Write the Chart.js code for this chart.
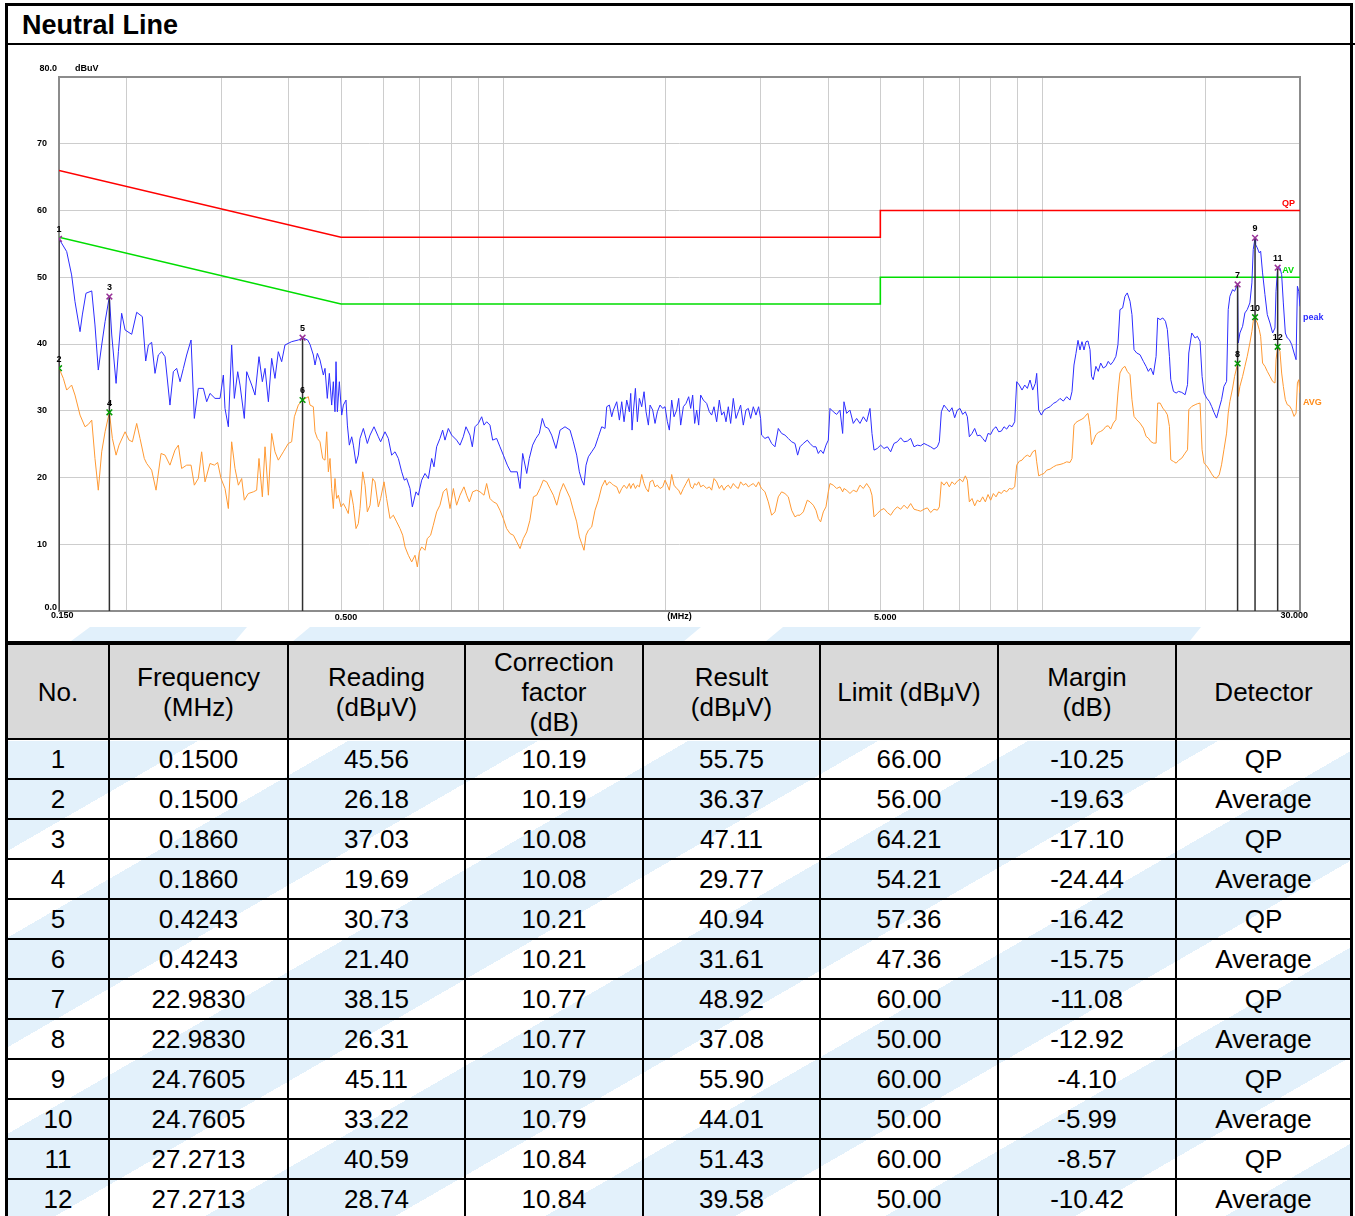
<!DOCTYPE html>
<html>
<head>
<meta charset="utf-8">
<title>Neutral Line</title>
<script src="https://cdn.jsdelivr.net/npm/chart.js@4.4.1/dist/chart.umd.min.js"></script>
<style>
  body { margin: 0; background: #fff; font-family: "Liberation Sans", Arial, sans-serif; }
  #page { position: relative; width: 1355px; height: 1216px; overflow: hidden; background: #fff; }
  #frame { position: absolute; left: 5px; top: 3px; width: 1342px; height: 1300px; border: 3px solid #000; }
  #title { position: absolute; left: 0; top: 0; width: 1342px; height: 37px; border-bottom: 2px solid #000;
           font: bold 27px "Liberation Sans", Arial, sans-serif; line-height: 38px; padding-left: 14px; box-sizing: content-box; }
  #strip { position: absolute; left: 0; top: 39px; width: 1342px; height: 596px; }
  .wm { position: absolute; top: 582px; height: 20px; background: #e1f0fb; }
  #plot { position: absolute; left: 0; top: 39px; }
  #tblbg { position: absolute; left: 0; top: 735px; width: 1342px; height: 600px;
           background: repeating-linear-gradient(150deg, #e3f1fb 0 95px, #ffffff 95px 170px); }
  #tbl { position: absolute; left: 0; top: 635px; width: 1342px; border-collapse: collapse; table-layout: fixed;
         font: 26px "Liberation Sans", Arial, sans-serif; color: #000; }
  #tbl th, #tbl td { border: 2px solid #000; text-align: center; padding: 0; }
  #tbl th { background: #d9d9d9; font-weight: normal; height: 93px; line-height: 30px; border-top: 4px solid #000; }
  #tbl td { height: 38px; line-height: 38px; }
  #tbl tr > :first-child { border-left: none; }
  #tbl tr > :last-child { border-right: none; }
</style>
</head>
<body>
<div id="page">
  <div id="frame">
    <div id="title">Neutral Line</div>
    <div id="strip">
      <div class="wm" style="left:55px;width:184px;clip-path:polygon(27px 0,184px 0,167px 100%,0 100%);"></div>
      <div class="wm" style="left:278px;width:415px;clip-path:polygon(24px 0,415px 0,391px 100%,0 100%);"></div>
      <div class="wm" style="left:751px;width:442px;clip-path:polygon(24px 0,442px 0,426px 100%,0 100%);"></div>
    </div>
    <canvas id="plot" width="1342" height="596"></canvas>
    <div id="tblbg"></div>
    <table id="tbl">
      <colgroup>
        <col style="width:101px"><col style="width:179px"><col style="width:177px"><col style="width:178px">
        <col style="width:177px"><col style="width:178px"><col style="width:178px"><col style="width:174px">
      </colgroup>
      <thead>
        <tr>
          <th>No.</th><th>Frequency<br>(MHz)</th><th>Reading<br>(dBμV)</th><th>Correction<br>factor<br>(dB)</th>
          <th>Result<br>(dBμV)</th><th>Limit (dBμV)</th><th>Margin<br>(dB)</th><th>Detector</th>
        </tr>
      </thead>
      <tbody id="rows"></tbody>
    </table>
  </div>
</div>
<script>
// axis grid
const gridFreq = [0.15, 0.2, 0.3, 0.4, 0.5, 0.6, 0.7, 0.8, 0.9, 1, 2, 3, 4, 5, 6, 7, 8, 9, 10, 20, 30];
const levelTicks = [0, 10, 20, 30, 40, 50, 60, 70, 80];
const xLabelFreq = [0.15, 0.5, 5, 30];
const xLabelText = ["0.150", "0.500", "5.000", "30.000"];

// limit lines
const limitFreq = [0.15, 0.5, 5, 5, 30];
const qpLimit = [66, 56, 56, 60, 60];
const avLimit = [56, 46, 46, 50, 50];

// peak trace (blue)
const peakFreq = [
  0.150,0.155,0.1583,0.1606,0.1641,0.1657,0.1683,0.1725,0.1749,0.1774,0.1800,0.1826,0.186,0.1879,0.1914,0.1933,
  0.1960,0.1989,0.2046,0.2090,0.2141,0.2172,0.2197,0.2228,0.2260,0.2292,0.2325,0.2359,0.2409,0.2444,0.2479,0.2515,
  0.2551,0.2587,0.2636,0.2673,0.2719,0.2778,0.2818,0.2858,0.2920,0.2983,0.3026,0.3047,0.3091,0.3135,0.3171,0.3217,
  0.3249,0.3309,0.3343,0.3415,0.3464,0.3523,0.3574,0.3615,0.3667,0.3719,0.3772,0.3826,0.3881,0.3936,0.4050,0.4167,
  0.4243,0.4337,
  0.438,0.4443,0.4475,0.4520,0.4571,0.4637,0.4670,0.4716,0.4757,0.4805,0.4839,0.4873,0.4895,0.4923,0.4965,0.5015,
  0.5051,0.5108,0.5138,0.5181,0.5234,0.5271,0.5331,0.5384,0.5423,0.5501,0.5595,0.5660,0.5757,0.5864,0.5922,0.6033,
  0.6119,0.6207,0.6297,0.6387,0.6479,0.6552,0.6618,0.6713,0.6780,0.6887,0.6956,0.7056,0.7157,0.7260,0.7364,0.7437,
  0.7521,0.7629,0.7717,0.7794,0.7906,0.8019,0.8191,0.8310,0.8428,0.8525,0.8671,0.8759,0.8859,0.8986,0.9116,0.9207,
  0.9311,0.9444,0.9553,0.9717,0.9856,1.000,1.017,1.032,1.051,1.061,1.074,1.086,1.105,1.117,1.133,1.149,
  1.166,1.181,1.195,1.212,1.229,1.252,1.274,1.301,
  1.3293,1.3483,1.3677,1.3833,1.3972,1.4112,1.4233,1.4376,1.4582,1.4791,1.5003,1.5218,1.5437,1.5547,1.5725,1.5883,
  1.5997,1.6226,1.6412,1.6576,1.6742,1.6934,1.7127,1.7225,1.7324,1.7422,1.7572,1.7722,1.7874,1.8053,1.8234,1.8390,
  1.8574,1.8707,1.8920,1.9110,1.9301,1.9521,1.9745,1.9943,2.0142,2.0314,2.0518,2.0723,2.0960,2.1139,2.1321,2.1565,
  2.1811,2.2061,2.2250,2.2440,2.2633,2.2827,2.3023,2.3220,2.3486,2.3822,2.4095,2.4336,2.4579,2.4860,2.5145,2.5396,
  2.5650,2.5870,2.6129,2.6390,2.6692,2.6998,2.7268,2.7540,2.7855,2.8174,2.8456,2.8741,2.9070,2.9402,2.9738,2.9993,
  3.0121,3.0553,3.0991,3.1436,3.1886,3.2344,3.2807,3.3278,3.3755,3.4239,3.4730,3.5127,3.5480,3.5988,3.6608,3.7027,
  3.7558,3.7988,3.8369,3.8753,3.9197,3.9645,4.0043,
  4.033,4.091,4.149,4.209,4.257,4.281,4.330,4.392,4.455,4.519,4.584,4.650,4.716,4.784,4.825,4.867,
  4.936,5.007,5.079,5.152,5.226,5.300,5.376,5.454,5.532,5.611,5.692,5.773,5.856,5.940,6.025,6.111,
  6.199,6.288,6.378,6.433,6.488,6.562,6.637,6.713,6.790,6.868,6.947,7.026,7.107,7.188,7.250,7.312,
  7.396,7.480,7.566,7.653,7.740,7.829,7.919,8.009,8.101,8.194,8.288,8.383,8.479,8.576,8.674,8.773,
  8.874,8.950,9.052,9.156,9.261,9.367,9.474,9.583,9.692,9.748,9.831,9.944,10.058,10.173,10.319,10.466,
  10.616,10.768,10.922,11.078,11.236,11.333,11.430,11.528,11.627,11.727,11.827,11.929,12.031,12.134,
  12.24,12.32,12.41,12.55,12.68,12.81,12.95,13.10,13.23,13.37,13.52,13.67,13.79,13.91,14.07,14.21,
  14.35,14.52,14.64,14.77,14.94,15.15,15.37,15.55,15.70,15.86,16.04,16.23,16.34,16.51,16.70,16.89,
  17.03,17.18,17.28,17.48,17.68,17.86,18.11,18.37,18.56,18.66,18.90,19.17,19.36,19.58,19.75,19.92,
  20.14,20.37,20.57,20.78,21.01,21.25,21.46,21.68,21.93,22.08,22.24,22.50,22.69,22.983,23.05,23.21,
  23.48,23.71,23.95,24.22,24.43,24.57,24.7605,24.82,25.00,25.21,25.36,25.57,25.83,26.09,26.39,26.69,
  26.96,27.08,27.2713,27.54,27.74,27.94,28.18,28.42,28.67,28.96,29.25,29.50,29.67,29.84,30.0
];
const peakLevel = [
  55.75,53.85,50.35,46.35,41.85,44.35,47.6,47.95,42.85,36.1,39.85,43.35,47.11,41.35,34.1,38.85,
  44.6,42.1,41.45,44.75,44.1,37.45,39.85,40.25,35.6,38.35,38.85,38.1,30.85,35.85,36.35,34.35,
  36.35,38.35,40.6,28.85,33.35,33.35,31.35,32.6,31.85,31.85,35.35,30.35,27.6,39.85,31.85,35.85,
  33.85,28.85,35.85,33.85,32.35,38.1,34.35,36.35,31.35,37.85,34.85,38.85,37.35,39.85,40.35,40.6,
  40.94,40.6,
  39.95,38.35,36.85,38.6,37.6,35.35,36.35,31.85,35.6,30.85,34.35,29.85,37.35,29.85,34.35,29.35,
  30.85,31.6,27.85,24.85,26.1,24.85,22.1,23.35,25.85,27.35,25.1,26.35,27.6,26.1,25.35,26.85,
  25.85,23.35,23.85,22.85,20.85,19.6,19.85,18.35,15.6,17.85,17.35,19.6,20.6,19.85,22.85,21.6,
  24.6,25.85,27.1,25.6,27.35,26.35,25.6,24.85,26.1,27.6,26.35,24.6,27.6,28.1,29.1,27.85,
  28.35,27.85,25.6,25.85,24.6,23.35,21.85,20.85,20.85,20.85,18.35,23.6,20.6,22.85,24.85,25.85,
  26.6,28.85,27.6,27.35,26.35,24.35,27.1,27.6,
  27.1,25.35,23.35,20.85,19.6,18.85,21.85,23.1,23.85,24.6,26.1,27.6,27.35,30.6,30.85,29.1,
  30.1,31.35,28.6,31.35,28.35,31.6,29.85,32.6,27.1,29.85,33.35,28.35,31.85,30.6,32.85,29.85,
  27.85,30.85,30.1,28.1,29.85,30.85,30.35,30.6,28.35,27.1,31.6,29.1,30.1,31.85,27.85,30.6,
  31.1,32.1,30.35,32.35,28.1,30.1,27.85,32.35,31.6,31.1,29.85,29.35,30.6,28.35,31.6,29.35,
  29.85,28.35,30.6,28.1,31.85,28.85,29.85,30.85,27.85,30.1,30.35,28.85,30.6,29.35,30.6,28.85,
  26.35,25.85,26.1,25.1,24.6,27.35,26.6,26.35,25.85,25.35,25.1,23.35,24.6,25.1,25.6,25.1,
  24.6,24.6,23.6,24.1,23.6,24.85,25.6,
  30.35,29.85,29.45,30.1,26.6,31.35,29.6,30.1,28.1,28.85,28.1,29.1,28.35,30.35,26.6,24.1,
  24.35,24.85,24.35,24.6,23.85,25.1,25.35,25.95,25.35,25.45,25.85,24.6,24.85,24.75,25.1,24.85,
  24.6,24.25,24.6,25.35,29.85,30.85,30.35,29.85,30.45,28.95,30.1,30.35,29.45,29.85,29.1,26.1,
  26.6,27.35,26.25,26.35,25.85,25.35,26.6,26.45,27.25,27.6,26.85,26.95,27.6,27.25,27.85,27.6,
  28.35,34.35,33.85,33.1,33.85,33.35,34.6,33.1,34.1,35.6,30.1,29.35,30.1,30.35,30.6,31.1,
  31.35,31.85,31.45,32.1,31.6,32.85,36.85,38.6,40.55,39.1,40.35,39.1,40.35,40.45,
  39.15,35.15,34.65,36.65,35.9,37.15,36.4,36.65,37.4,36.9,37.4,38.15,39.9,45.15,45.4,47.15,
  47.65,46.4,44.4,39.15,38.65,38.4,37.4,36.65,35.9,36.4,35.4,38.15,43.9,43.65,43.9,43.4,
  42.15,38.15,34.65,32.9,32.65,32.9,32.75,32.4,33.9,38.65,41.65,40.9,41.15,40.4,35.15,32.65,
  31.9,31.4,30.65,29.75,28.9,30.4,31.65,33.65,34.4,45.15,47.15,48.15,47.9,48.92,40.15,41.65,
  42.65,44.65,45.15,46.15,49.15,54.15,55.90,54.9,54.4,53.65,53.9,50.65,47.4,44.4,43.15,41.65,
  42.4,47.9,51.43,51.4,50.4,46.15,41.65,40.9,40.65,39.9,38.65,37.65,48.65,47.9,45.65
];

// average trace (orange)
const avgFreq = [
  0.150,0.1528,0.155,0.1583,0.1606,0.1641,0.1676,0.1700,0.1725,0.1749,0.1774,0.1800,0.1826,0.186,0.1884,0.1914,
  0.1938,0.1989,0.2023,0.2052,0.2090,0.2120,0.2159,0.2181,0.2228,0.2270,0.2319,0.2359,0.2409,0.2461,0.2497,0.2532,
  0.2587,0.2636,0.2673,0.2719,0.2758,0.2798,0.2858,0.2912,0.2953,0.2996,0.3047,0.3091,0.3135,0.3180,0.3226,0.3272,
  0.3309,0.3366,0.3439,0.3488,0.3523,0.3574,0.3615,0.3667,0.3719,0.3772,0.3826,0.3909,0.3993,0.4050,0.4097,0.4167,
  0.4243,0.4349,
  0.438,0.4443,0.4475,0.4520,0.4571,0.4624,0.4670,0.4704,0.4737,0.4771,0.4805,0.4839,0.4873,0.4908,0.4944,0.500,
  0.5051,0.5108,0.5158,0.5211,0.5271,0.5331,0.5384,0.5423,0.5485,0.5540,0.5595,0.5660,0.5724,0.5781,0.5864,0.5922,
  0.6008,0.6075,0.6163,0.6252,0.6342,0.6433,0.6507,0.6572,0.6666,0.6762,0.6858,0.6927,0.6986,0.7056,0.7157,0.7226,
  0.7330,0.7414,0.7521,0.7629,0.7737,0.7849,0.7963,0.8078,0.8191,0.8310,0.8452,0.8550,0.8648,0.8772,0.8922,0.9051,
  0.9207,0.9311,0.9444,0.9580,0.9717,0.9856,1.000,1.014,1.029,1.044,1.059,1.074,1.089,1.105,1.120,1.137,
  1.153,1.169,1.186,1.203,1.220,1.238,1.256,1.274,1.292,
  1.3293,1.3483,1.3677,1.3833,1.3972,1.4112,1.4233,1.4376,1.4582,1.4791,1.5003,1.5218,1.5437,1.5547,1.5725,1.5883,
  1.5997,1.6226,1.6412,1.6576,1.6742,1.6934,1.7127,1.7225,1.7324,1.7422,1.7572,1.7722,1.7874,1.8053,1.8234,1.8390,
  1.8574,1.8707,1.8920,1.9110,1.9301,1.9521,1.9745,1.9943,2.0142,2.0314,2.0518,2.0723,2.0960,2.1139,2.1321,2.1565,
  2.1811,2.2061,2.2250,2.2440,2.2633,2.2827,2.3023,2.3220,2.3486,2.3822,2.4095,2.4336,2.4579,2.4860,2.5145,2.5396,
  2.5650,2.5870,2.6129,2.6390,2.6692,2.6998,2.7268,2.7540,2.7855,2.8174,2.8456,2.8741,2.9070,2.9402,2.9738,2.9993,
  3.0121,3.0553,3.0991,3.1436,3.1886,3.2344,3.2807,3.3278,3.3755,3.4239,3.4730,3.5127,3.5480,3.5988,3.6608,3.7027,
  3.7558,3.7988,3.8369,3.8753,3.9197,3.9645,4.0043,
  4.033,4.091,4.149,4.209,4.257,4.281,4.330,4.392,4.455,4.519,4.584,4.650,4.716,4.784,4.825,4.867,
  4.936,5.007,5.079,5.152,5.226,5.300,5.376,5.454,5.532,5.611,5.692,5.773,5.856,5.940,6.025,6.111,
  6.199,6.288,6.378,6.433,6.488,6.562,6.637,6.713,6.790,6.868,6.947,7.026,7.107,7.188,7.250,7.312,
  7.396,7.480,7.566,7.653,7.740,7.829,7.919,8.009,8.101,8.194,8.288,8.383,8.479,8.576,8.674,8.773,
  8.874,8.950,9.052,9.156,9.261,9.367,9.474,9.583,9.692,9.748,9.831,9.944,10.058,10.173,10.319,10.466,
  10.616,10.768,10.922,11.078,11.236,11.333,11.430,11.528,11.627,11.727,11.827,11.929,12.031,12.134,
  12.24,12.32,12.41,12.55,12.68,12.81,12.95,13.10,13.23,13.37,13.52,13.67,13.79,13.91,14.07,14.21,
  14.35,14.52,14.64,14.77,14.94,15.15,15.37,15.55,15.70,15.86,16.04,16.23,16.34,16.51,16.70,16.89,
  17.03,17.18,17.28,17.48,17.68,17.86,18.11,18.37,18.56,18.66,18.90,19.17,19.36,19.58,19.75,19.92,
  20.14,20.37,20.57,20.78,21.01,21.25,21.46,21.68,21.93,22.08,22.24,22.50,22.69,22.983,23.05,23.21,
  23.48,23.71,23.95,24.22,24.43,24.57,24.7605,24.82,25.00,25.21,25.36,25.57,25.83,26.09,26.39,26.69,
  26.96,27.08,27.2713,27.54,27.74,27.94,28.18,28.42,28.67,28.96,29.25,29.50,29.67,29.84,30.0
];
const avgLevel = [
  36.37,34.85,33.1,33.85,32.35,29.35,27.6,27.95,28.6,22.85,18.1,23.85,26.85,29.77,25.85,23.35,
  24.85,26.85,25.6,25.35,28.1,25.85,22.85,22.1,21.1,18.1,23.6,23.35,21.85,24.1,24.85,21.35,
  21.85,21.85,18.85,19.85,23.85,19.35,22.1,21.85,22.25,19.85,18.35,15.35,25.35,21.35,18.85,19.85,
  16.6,17.6,17.85,18.1,22.85,17.1,24.6,17.35,26.6,23.85,22.6,23.85,25.1,25.35,29.1,30.85,
  31.61,32.1,
  30.85,30.6,26.85,25.85,25.35,22.85,22.6,26.85,20.85,22.85,18.35,15.35,19.85,16.85,17.35,15.6,
  16.1,15.35,14.6,18.1,15.85,12.35,13.1,15.35,20.85,18.85,14.85,15.85,19.85,19.35,15.6,16.85,
  19.35,16.85,13.85,14.35,13.35,12.35,11.35,9.6,8.35,7.35,8.35,6.6,8.85,9.6,9.1,10.85,
  11.35,12.85,14.85,15.85,17.85,18.35,15.35,18.35,15.85,17.35,18.6,17.35,16.35,17.85,18.1,17.85,
  17.35,19.1,16.85,16.35,16.1,15.1,13.85,12.35,11.6,11.35,10.35,9.35,10.85,11.85,13.6,17.1,
  17.35,18.35,19.6,19.35,18.35,17.35,15.85,17.85,19.1,
  16.95,15.1,13.35,11.1,10.1,9.1,11.35,12.1,12.6,15.1,16.6,18.6,19.6,18.85,19.35,19.1,
  18.85,18.6,17.6,18.35,18.85,18.35,19.1,18.35,18.85,19.1,18.35,18.85,18.6,20.45,19.1,18.35,
  17.85,19.35,19.6,18.6,18.85,18.35,18.6,19.6,18.85,18.1,20.45,18.85,18.35,18.1,17.45,18.35,
  19.1,19.85,18.6,18.35,19.1,18.85,19.35,18.6,18.85,18.35,18.6,18.1,19.85,19.35,18.35,18.85,
  18.1,18.6,18.85,18.35,19.1,18.6,18.35,19.35,18.85,19.1,18.6,18.85,19.1,18.6,19.35,18.6,
  18.35,17.85,16.35,14.35,14.85,17.1,17.85,17.6,17.1,15.1,14.1,14.35,14.35,14.85,16.6,16.35,
  15.85,15.1,13.85,13.35,14.85,15.6,17.85,
  19.1,18.85,18.35,18.6,17.85,18.35,18.1,17.6,18.1,17.85,18.85,18.35,19.1,18.35,17.35,14.1,
  14.6,15.1,15.35,14.75,14.35,15.1,15.6,15.25,15.85,15.35,16.1,15.25,15.1,14.95,15.25,15.45,
  14.75,15.25,15.1,15.6,19.35,18.85,19.35,18.6,19.35,18.95,19.45,19.75,19.35,20.25,19.6,16.35,
  16.85,15.75,16.6,16.35,17.1,16.35,17.45,16.6,17.6,17.1,17.85,17.6,18.1,17.85,18.35,18.25,
  18.6,21.85,22.45,22.6,23.1,23.35,23.1,23.85,24.1,22.35,20.25,20.45,20.6,21.1,21.25,21.6,
  21.85,21.95,22.1,22.35,22.25,22.85,27.85,28.25,28.45,28.6,28.75,28.95,29.35,29.6,
  27.65,24.9,25.4,26.4,26.75,26.9,27.15,27.65,27.75,27.25,28.15,28.65,32.65,35.65,36.4,36.65,
  35.9,35.4,31.65,29.15,28.65,28.15,27.4,26.15,25.9,25.4,25.15,25.15,31.15,31.15,30.4,29.9,
  29.4,27.65,22.65,22.4,22.15,22.55,22.9,23.65,24.15,30.15,30.65,30.9,31.05,31.15,24.15,22.15,
  21.75,21.15,20.55,20.05,19.9,20.4,21.9,24.15,26.65,29.65,31.4,33.4,35.15,37.08,32.15,33.65,
  35.15,36.65,38.15,40.15,41.9,43.4,44.01,43.65,43.15,42.15,41.15,37.15,36.65,35.9,35.15,34.4,
  34.15,37.65,39.58,38.9,35.65,33.65,31.65,30.9,30.75,30.15,29.15,29.65,34.15,34.65,32.65
];

// marker table
const markerNo = [1, 2, 3, 4, 5, 6, 7, 8, 9, 10, 11, 12];
const markerFreq = [0.15, 0.15, 0.186, 0.186, 0.4243, 0.4243, 22.983, 22.983, 24.7605, 24.7605, 27.2713, 27.2713];
const reading = [45.56, 26.18, 37.03, 19.69, 30.73, 21.40, 38.15, 26.31, 45.11, 33.22, 40.59, 28.74];
const corrFactor = [10.19, 10.19, 10.08, 10.08, 10.21, 10.21, 10.77, 10.77, 10.79, 10.79, 10.84, 10.84];
const result = [55.75, 36.37, 47.11, 29.77, 40.94, 31.61, 48.92, 37.08, 55.90, 44.01, 51.43, 39.58];
const limit = [66.00, 56.00, 64.21, 54.21, 57.36, 47.36, 60.00, 50.00, 60.00, 50.00, 60.00, 50.00];
const margin = [-10.25, -19.63, -17.10, -24.44, -16.42, -15.75, -11.08, -12.92, -4.10, -5.99, -8.57, -10.42];
const detector = ["QP", "Average", "QP", "Average", "QP", "Average", "QP", "Average", "QP", "Average", "QP", "Average"];

// table rows
const rows = document.getElementById("rows");
markerNo.forEach((n, i) => {
  const tr = document.createElement("tr");
  const cells = [n, markerFreq[i].toFixed(4), reading[i].toFixed(2), corrFactor[i].toFixed(2),
    result[i].toFixed(2), limit[i].toFixed(2), margin[i].toFixed(2), detector[i]];
  cells.forEach(c => {
    const td = document.createElement("td");
    td.textContent = c;
    tr.appendChild(td);
  });
  rows.appendChild(tr);
});

const pts = (xs, ys) => xs.map((x, i) => ({ x: x, y: ys[i] }));
const qpIdx = markerNo.map((n, i) => i).filter(i => detector[i] === "QP");
const avIdx = markerNo.map((n, i) => i).filter(i => detector[i] !== "QP");

const stems = qpIdx.map(i => ({
  data: [{ x: markerFreq[i], y: 0 }, { x: markerFreq[i], y: result[i] }],
  showLine: true, borderColor: "#303030", borderWidth: 1.5, pointRadius: 0
}));

const datasets = [
  { data: qpIdx.map(i => ({ x: markerFreq[i], y: result[i] })), pointStyle: "crossRot",
    pointRadius: 4, borderColor: "#993399", borderWidth: 1.5, showLine: false },
  { data: avIdx.map(i => ({ x: markerFreq[i], y: result[i] })), pointStyle: "crossRot",
    pointRadius: 4, borderColor: "#009900", borderWidth: 1.5, showLine: false },
  ...stems,
  { data: pts(peakFreq, peakLevel), showLine: true, borderColor: "#2d2dff", borderWidth: 1, pointRadius: 0 },
  { data: pts(avgFreq, avgLevel), showLine: true, borderColor: "#ff9933", borderWidth: 1, pointRadius: 0 },
  { data: pts(limitFreq, qpLimit), showLine: true, borderColor: "#ff0000", borderWidth: 1.6, pointRadius: 0 },
  { data: pts(limitFreq, avLimit), showLine: true, borderColor: "#00dd00", borderWidth: 1.6, pointRadius: 0 }
];

const smallFont = 'bold 9px "Liberation Sans", Arial, sans-serif';

const labels = {
  id: "emiLabels",
  beforeDatasetsDraw(chart) {
    const { ctx, chartArea: a } = chart;
    ctx.save();
    ctx.strokeStyle = "#8c8c8c";
    ctx.lineWidth = 2;
    ctx.strokeRect(a.left, a.top, a.right - a.left, a.bottom - a.top);
    ctx.restore();
  },
  afterDatasetsDraw(chart) {
    const { ctx, chartArea: a, scales: { x, y } } = chart;
    ctx.save();
    ctx.font = smallFont;
    ctx.fillStyle = "#000";
    ctx.textBaseline = "middle";

    levelTicks.forEach(v => {
      const py = y.getPixelForValue(v);
      if (v === 80) {
        ctx.textAlign = "right";
        ctx.fillText("80.0", a.left - 2, py - 8);
      } else if (v === 0) {
        ctx.textAlign = "right";
        ctx.fillText("0.0", a.left - 2, py - 3);
      } else {
        ctx.textAlign = "left";
        ctx.fillText(String(v), a.left - 22, py);
      }
    });
    ctx.textAlign = "left";
    ctx.fillText("dBuV", a.left + 16, a.top - 8);

    xLabelFreq.forEach((f, i) => {
      const px = x.getPixelForValue(f);
      if (i === 0) {
        ctx.textAlign = "left";
        ctx.fillText(xLabelText[i], px - 8, a.bottom + 5);
      } else if (i === xLabelFreq.length - 1) {
        ctx.textAlign = "right";
        ctx.fillText(xLabelText[i], px + 8, a.bottom + 5);
      } else {
        ctx.textAlign = "center";
        ctx.fillText(xLabelText[i], px + 5, a.bottom + 7);
      }
    });
    ctx.textAlign = "center";
    ctx.fillText("(MHz)", (a.left + a.right) / 2, a.bottom + 6);

    // marker numbers
    markerNo.forEach((n, i) => {
      ctx.fillStyle = "#000";
      ctx.textAlign = "center";
      ctx.fillText(String(n), x.getPixelForValue(markerFreq[i]), y.getPixelForValue(result[i]) - 9);
    });

    // trace tags
    ctx.textAlign = "right";
    ctx.fillStyle = "#ff0000";
    ctx.fillText("QP", a.right - 5, y.getPixelForValue(60) - 7);
    ctx.fillStyle = "#00dd00";
    ctx.fillText("AV", a.right - 6, y.getPixelForValue(50) - 7);
    ctx.textAlign = "left";
    ctx.fillStyle = "#2d2dff";
    ctx.fillText("peak", a.right + 3, y.getPixelForValue(44));
    ctx.fillStyle = "#ff8c1a";
    ctx.fillText("AVG", a.right + 3, y.getPixelForValue(31.3));
    ctx.restore();
  }
};

new Chart(document.getElementById("plot"), {
  type: "scatter",
  data: { datasets },
  options: {
    responsive: false,
    animation: false,
    layout: { padding: { left: 51, right: 50, top: 32, bottom: 30 } },
    plugins: { legend: { display: false }, tooltip: { enabled: false } },
    elements: { line: { tension: 0 } },
    scales: {
      x: {
        type: "logarithmic", min: 0.15, max: 30,
        afterBuildTicks: s => { s.ticks = gridFreq.map(v => ({ value: v })); },
        ticks: { display: false },
        grid: { color: "#cdcdcd", lineWidth: 1, drawTicks: false },
        border: { display: false }
      },
      y: {
        min: 0, max: 80,
        afterBuildTicks: s => { s.ticks = levelTicks.map(v => ({ value: v })); },
        ticks: { display: false },
        grid: { color: "#cdcdcd", lineWidth: 1, drawTicks: false },
        border: { display: false }
      }
    }
  },
  plugins: [labels]
});
</script>
</body>
</html>
